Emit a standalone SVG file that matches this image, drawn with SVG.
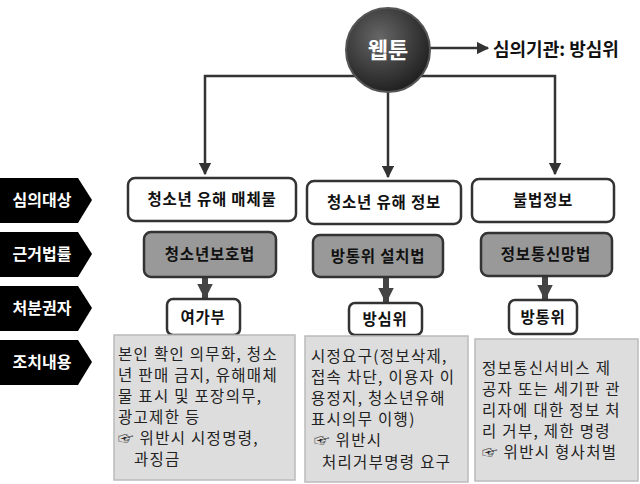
<svg xmlns="http://www.w3.org/2000/svg" width="640" height="484" viewBox="0 0 640 484">
<style>
text{font-family:"Noto Sans CJK KR","Noto Sans",sans-serif;fill:#111}
.b{font-weight:bold;font-size:15.5px;text-anchor:middle;letter-spacing:0.8px}
.w{fill:#fff;stroke:#333;stroke-width:2.5}
.g{fill:#999;stroke:#333;stroke-width:2.5}
.t{fill:#ddd;stroke:#bbb;stroke-width:1.5}
.body{font-size:15.5px;fill:#222;letter-spacing:1.3px}
.lab{fill:#fff;font-weight:bold;font-size:16px;text-anchor:middle}
.c{fill:none;stroke:#333;stroke-width:2.5}
.k{stroke:#444;stroke-width:6}
</style>
<defs>
<marker id="a" viewBox="0 0 10 10" refX="9" refY="5" markerWidth="5" markerHeight="5" orient="auto"><path d="M0,0L10,5L0,10z" fill="#333"/></marker>
<marker id="a2" viewBox="0 0 10 10" refX="9" refY="5" markerWidth="2.6" markerHeight="2.6" orient="auto"><path d="M0,0L10,5L0,10z" fill="#444"/></marker>
<radialGradient id="rg" cx="40%" cy="35%" r="65%"><stop offset="0" stop-color="#666"/><stop offset="1" stop-color="#222"/></radialGradient>
</defs>
<g id="connectors">
<path class="c" d="M388,76H555V174" marker-end="url(#a)"/>
<path class="c" d="M388,76H205V174" marker-end="url(#a)"/>
<path class="c" d="M388,90V177" marker-end="url(#a)"/>
<path class="c" d="M430,48H488" marker-end="url(#a)"/>
<path class="k" d="M205,277V298" marker-end="url(#a2)"/>
<path class="k" d="M386,277V302" marker-end="url(#a2)"/>
<path class="k" d="M545,276V299" marker-end="url(#a2)"/>
</g>
<g id="webtoon"><circle cx="388" cy="50" r="42" fill="url(#rg)" stroke="#555" stroke-width="2"/><text x="388" y="58" class="lab" style="font-size:22px">웹툰</text></g>
<g id="council"><text x="493" y="56" style="font-weight:bold;font-size:18px">심의기관: 방심위</text></g>
<g id="labels">
<path d="M0,178H78L92,200L78,223H0z" fill="#000"/><text x="42" y="206" class="lab">심의대상</text>
<path d="M0,232H78L92,254L78,277H0z" fill="#000"/><text x="42" y="260" class="lab">근거법률</text>
<path d="M0,286H78L92,308L78,331H0z" fill="#000"/><text x="42" y="314" class="lab">처분권자</text>
<path d="M0,340H78L92,362L78,385H0z" fill="#000"/><text x="42" y="368" class="lab">조치내용</text>
</g>
<g id="n1"><rect class="w" x="128" y="178" width="168" height="43" rx="7"/><text x="212" y="205" class="b">청소년 유해 매체물</text></g>
<g id="n2"><rect class="w" x="307" y="181" width="154" height="43" rx="7"/><text x="384" y="208" class="b">청소년 유해 정보</text></g>
<g id="n3"><rect class="w" x="472" y="179" width="142" height="43" rx="7"/><text x="543" y="206" class="b">불법정보</text></g>
<g id="l1"><rect class="g" x="144" y="232" width="132" height="45" rx="7"/><text x="210" y="260" class="b">청소년보호법</text></g>
<g id="l2"><rect class="g" x="313" y="235" width="130" height="42" rx="7"/><text x="378" y="262" class="b">방통위 설치법</text></g>
<g id="l3"><rect class="g" x="481" y="233" width="131" height="43" rx="7"/><text x="546" y="260" class="b">정보통신망법</text></g>
<g id="a1"><rect class="w" x="167" y="299" width="73" height="36" rx="6"/><text x="203" y="323" class="b">여가부</text></g>
<g id="a2g"><rect class="w" x="349" y="303" width="73" height="32" rx="6"/><text x="385" y="325" class="b">방심위</text></g>
<g id="a3"><rect class="w" x="509" y="300" width="68" height="34" rx="6"/><text x="543" y="323" class="b">방통위</text></g>
<g id="d1"><rect class="t" x="114" y="335" width="181" height="145"/>
<text class="body"><tspan x="118" y="360">본인 확인 의무화, 청소</tspan><tspan x="118" y="381">년 판매 금지, 유해매체</tspan><tspan x="118" y="402">물 표시 및 포장의무,</tspan><tspan x="118" y="423">광고제한 등</tspan><tspan x="118" y="444">☞ 위반시 시정명령,</tspan><tspan x="134" y="465">과징금</tspan></text></g>
<g id="d2"><rect class="t" x="305" y="336" width="163" height="146"/>
<text class="body"><tspan x="311" y="362">시정요구(정보삭제,</tspan><tspan x="311" y="383">접속 차단, 이용자 이</tspan><tspan x="311" y="404">용정지, 청소년유해</tspan><tspan x="311" y="425">표시의무 이행)</tspan><tspan x="314" y="446">☞ 위반시</tspan><tspan x="322" y="468">처리거부명령 요구</tspan></text></g>
<g id="d3"><rect class="t" x="475" y="339" width="163" height="142"/>
<text class="body"><tspan x="482" y="374">정보통신서비스 제</tspan><tspan x="482" y="395">공자 또는 세기판 관</tspan><tspan x="482" y="416">리자에 대한 정보 처</tspan><tspan x="482" y="437">리 거부, 제한 명령</tspan><tspan x="482" y="458">☞ 위반시 형사처벌</tspan></text></g>
</svg>
